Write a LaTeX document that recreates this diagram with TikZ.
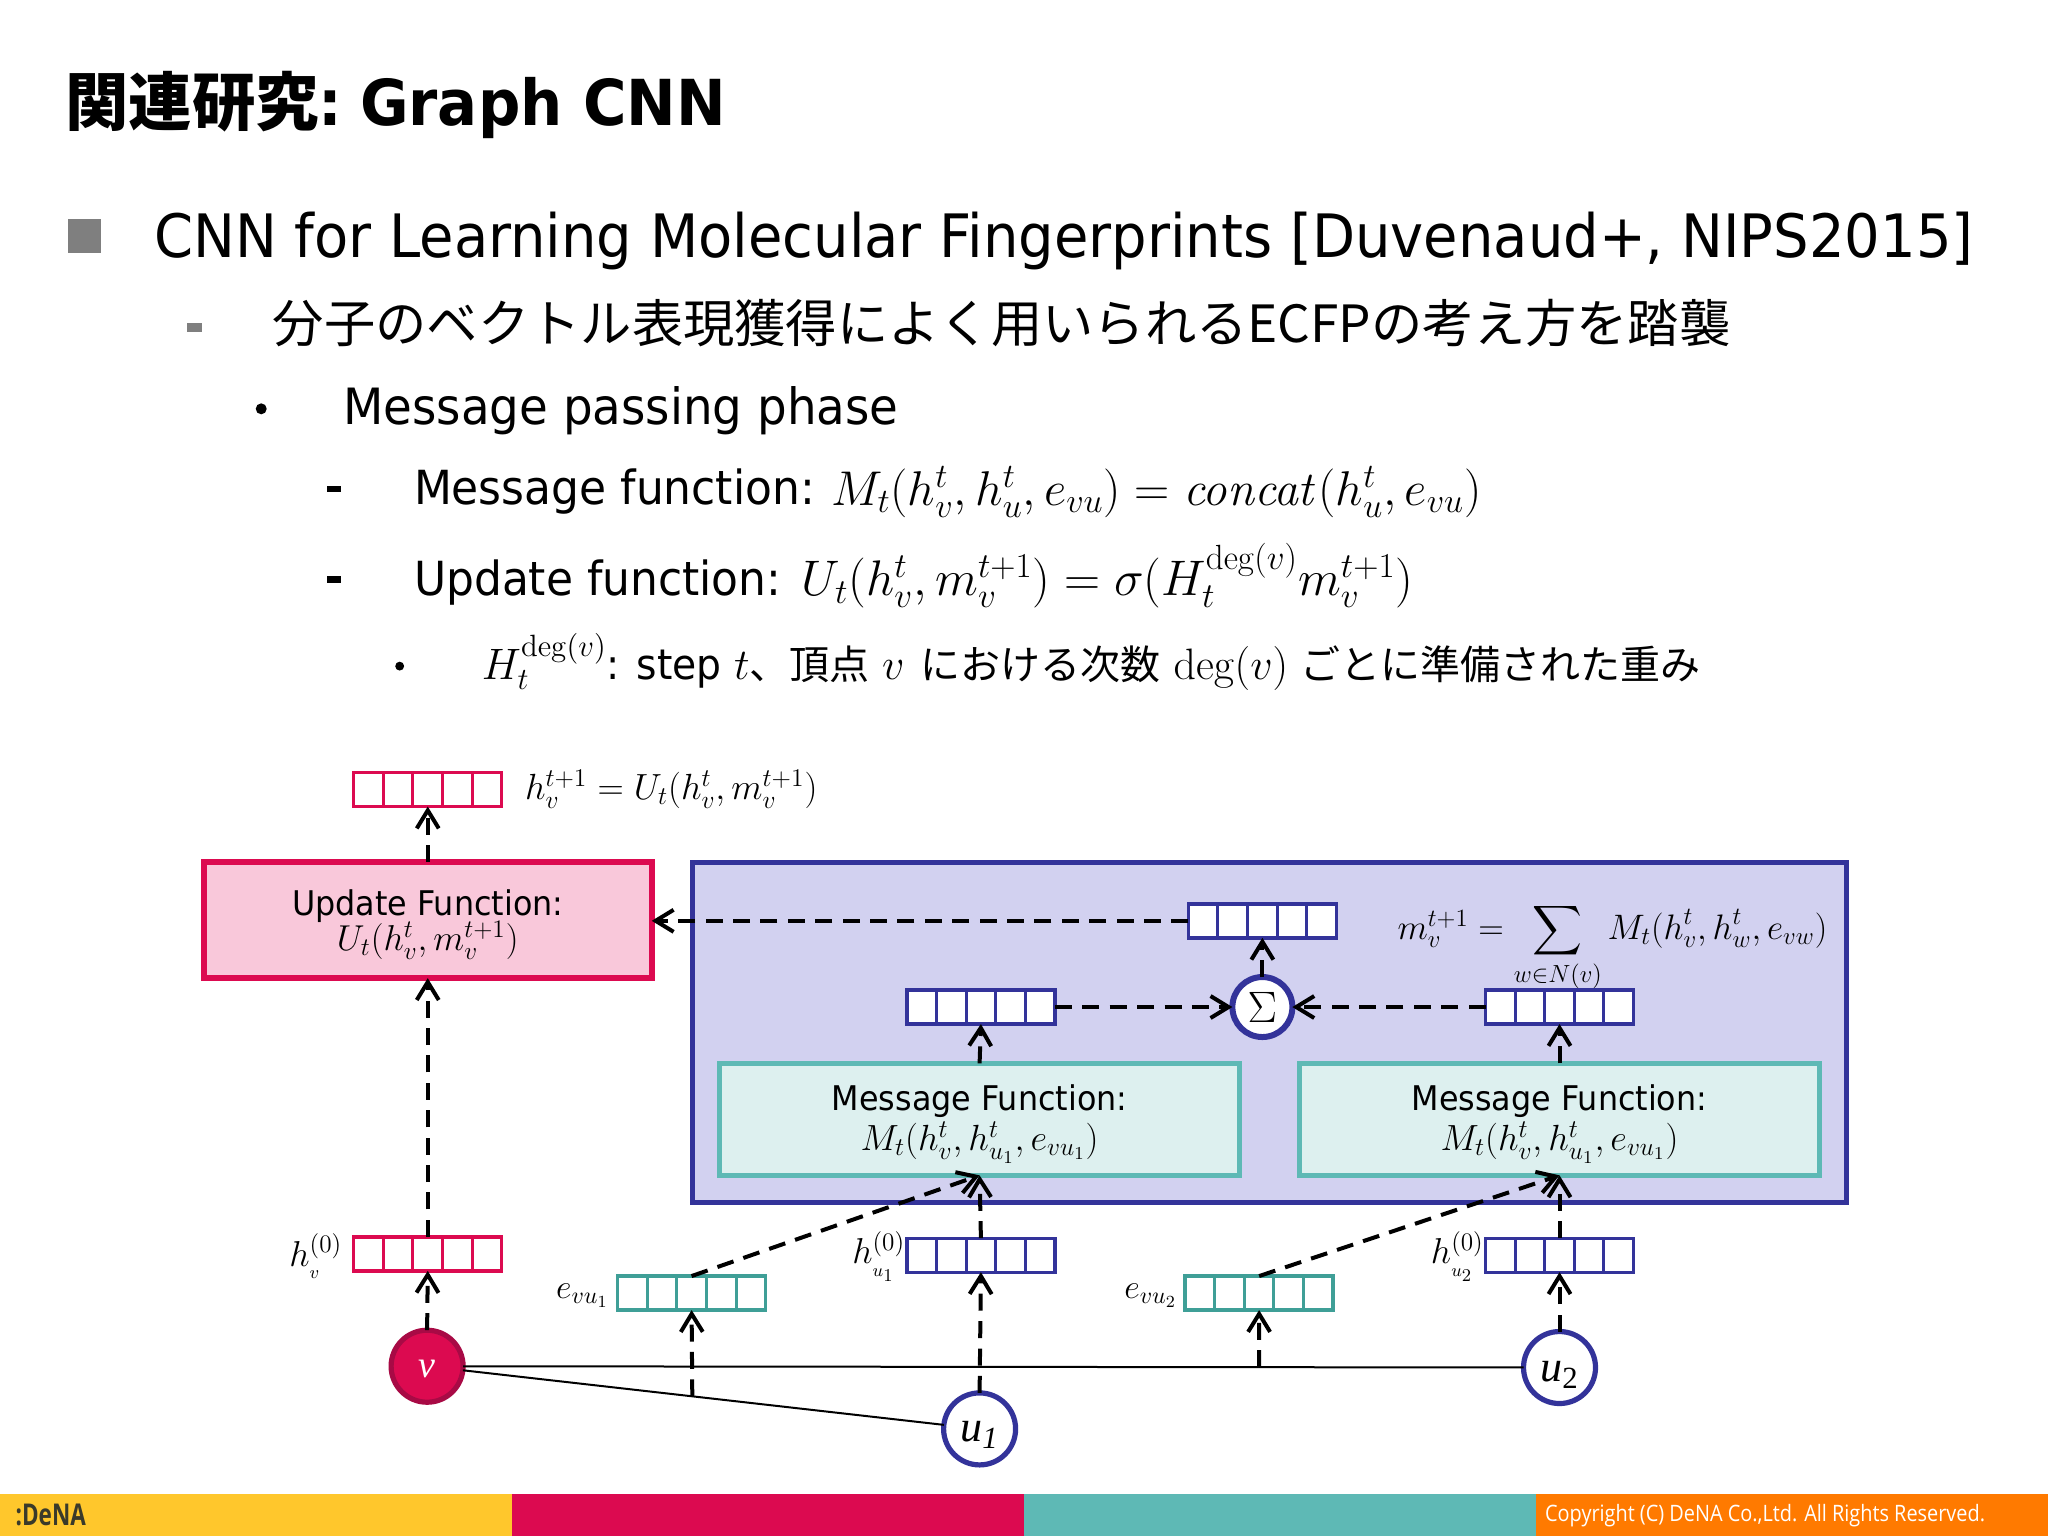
\RequirePackage{fix-cm}
\documentclass[tikz,border=0pt]{standalone}
\usepackage{amsmath}
\usepackage[no-math]{fontspec}
\setmainfont[FakeStretch=0.935]{DejaVu Sans}
\newfontfamily\jp{Noto Sans CJK JP}
\newfontfamily\opensans[FakeStretch=0.88]{Open Sans}
\newfontfamily\logofont[FakeStretch=0.75]{Open Sans}
\newfontfamily\libserif{Liberation Serif}
\usetikzlibrary{arrows.meta,calc}
\definecolor{dred}{HTML}{DC0A50}
\definecolor{dredd}{HTML}{A80A45}
\definecolor{dblue}{HTML}{33339A}
\definecolor{dteal}{HTML}{5EB9B5}
\definecolor{dtealv}{HTML}{3F9F97}
\definecolor{dyellow}{HTML}{FFC72C}
\definecolor{dorange}{HTML}{FF7A00}
\definecolor{lred}{HTML}{F9C8DA}
\definecolor{lblue}{HTML}{D2D1F0}
\definecolor{lteal}{HTML}{DDF0EF}
\definecolor{bgray}{HTML}{7F7F7F}
\definecolor{logoc}{HTML}{3A3A2A}
\newcommand{\fsz}[1]{\fontsize{#1}{#1}\selectfont}
\newcommand{\cellvec}[4]{% name, x, y, colour
  \node[vecbox,draw=#4] (#1) at (#2,#3) {};
  \foreach \k in {1,2,3,4}
    \draw[#4,line width=1.5pt] ($(#1.west)!\k/5!(#1.east)+(0,-13)$) -- ($(#1.west)!\k/5!(#1.east)+(0,13)$);
}
\newcommand{\lowsub}[1]{\raisebox{-2pt}{$\scriptscriptstyle #1$}}
\tikzset{
  x=0.65306pt,y=-0.65306pt,
  every node/.style={inner sep=0pt,outer sep=0pt},
  vecbox/.style={rectangle,fill=white,line width=1.7pt,minimum width=74pt,minimum height=17pt},
  txt/.style={anchor=base west,text=black},
  updatebox/.style={rectangle,draw=dred,fill=lred,line width=2.8pt,minimum width=224pt,minimum height=58pt,align=center},
  msgbox/.style={rectangle,draw=dteal,fill=lteal,line width=2.6pt,minimum width=260pt,minimum height=56pt,align=center},
  nodecirc/.style={circle,line width=2.6pt,minimum size=36pt},
  flow/.style={line width=2pt,dash pattern=on 8.5pt off 5.2pt,-{Straight Barb[length=9pt,width=11pt,line width=2pt]}},
  edgeline/.style={line width=1pt,black},
}
\begin{document}
\begin{tikzpicture}
\useasboundingbox (0,0) rectangle (1568,1176);
\fill[white] (0,0) rectangle (1568,1176);
% footer
\fill[dyellow] (0,1144) rectangle (392,1176);
\fill[dred] (392,1144) rectangle (784,1176);
\fill[dteal] (784,1144) rectangle (1176,1176);
\fill[dorange] (1176,1144) rectangle (1568,1176);
\node[txt,text=white] (copy) at (1183,1165) {\opensans\fsz{11.3}Copyright (C) DeNA Co.,Ltd. All Rights Reserved.};
\node[txt,text=logoc] (logo) at (12,1168) {\logofont\bfseries\fsz{15}:DeNA};
% text
\node[txt] (title) at (50,96) {\fsz{31.7}\bfseries{\jp 関連研究}:\hspace{-5pt} Graph CNN};
\fill[bgray] (52,168) rectangle (77,194);
\node[txt] (l1) at (118,197) {\fsz{29.93}CNN for Learning Molecular Fingerprints [Duvenaud+, NIPS2015]};
\fill[bgray] (143,247) rectangle (155,254);
\node[txt] (l2) at (209,262) {\fsz{25.65}\jp 分子のベクトル表現獲得によく用いられるECFPの考え方を踏襲};
\fill[black] (200,313) circle (4.2);
\node[txt] (l3) at (263,325) {\fsz{25}Message passing phase};
\fill[black] (250,372) rectangle (261,377);
\node[txt] (l4) at (317,386) {\fsz{23.5}Message function:};
\node[txt] (l4m) at (636.5,387) {\fsz{24.4}\(M_t(h_v^t,h_u^t,e_{vu})=\mathit{concat}(h_u^t,e_{vu})\)};
\fill[black] (250,441) rectangle (261,446);
\node[txt] (l5) at (317,456) {\fsz{23.5}Update function:};
\node[txt] (l5m) at (614,456) {\fsz{25}\(U_t(h_v^t,m_v^{t+1})=\sigma(H_t^{\deg(v)}m_v^{t+1})\)};
\fill[black] (306,510) circle (3.4);
\node[txt] (l6) at (369,520) {\fsz{21}{\fsz{22}\(H_t^{\deg(v)}\)}: step {\fsz{22}\(t\)}{\jp\fsz{20}、頂点} {\fsz{22}\(v\)}\kern1.5pt{} {\jp\fsz{20}における次数}\kern0.5pt{} {\fsz{22}\(\deg(v)\)} {\jp\fsz{20}ごとに準備された重み}};
% containers
\node[rectangle,draw=dblue,fill=lblue,line width=2.8pt,minimum width=577pt,minimum height=170pt] (mp) at (972,790.5) {};
\node[updatebox] (upd) at (327.5,704.5) {\fsz{17}\rule{0pt}{17pt}Update Function:\\[-1.5pt]\fsz{18}\(U_t(h_v^t,m_v^{t+1})\)};
\node[msgbox] (m1) at (750,857) {\fsz{17}\rule{0pt}{17.5pt}Message Function:\\[1pt]\fsz{18.2}\(M_t(h_v^t,h_{u_1}^t,e_{vu_1})\)};
\node[msgbox] (m2) at (1194,857) {\fsz{17}\rule{0pt}{17.5pt}Message Function:\\[1pt]\fsz{18.2}\(M_t(h_v^t,h_{u_1}^t,e_{vu_1})\)};
% vectors
\cellvec{hnew}{327.5}{604.5}{dred}
\cellvec{msum}{966.5}{705}{dblue}
\cellvec{ml}{751}{771}{dblue}
\cellvec{mr}{1194}{771}{dblue}
\cellvec{hv}{327.5}{960}{dred}
\cellvec{e1}{529.5}{990}{dtealv}
\cellvec{hu1}{751}{961}{dblue}
\cellvec{e2}{964}{990}{dtealv}
\cellvec{hu2}{1194}{961}{dblue}
% graph nodes
\node[nodecirc,draw=dredd,fill=dred,text=white] (v) at (327,1046) {\raisebox{-5.6pt}[8pt][8pt]{\libserif\itshape\fsz{19}v}};
\node[nodecirc,draw=dblue,fill=white] (u1) at (750,1094) {\raisebox{-6.3pt}[8pt][8pt]{\libserif\itshape\fsz{22}u\textsubscript{1}}};
\node[nodecirc,draw=dblue,fill=white] (u2) at (1194,1047) {\raisebox{-7pt}[8pt][8pt]{\libserif\fsz{22}\textit{u}\textsubscript{2}}};
\node[circle,draw=dblue,fill=white,line width=3pt,minimum size=30pt] (sig) at (966.5,771) {\fsz{22}\(\Sigma\)};
% graph edges
\draw[edgeline] (v) -- (u2);
\draw[edgeline] (v) -- (u1);
\coordinate (e1base) at ($(v)!0.48!(u1)$);
\coordinate (e2base) at ($(v)!0.7347!(u2)$);
% flows
\draw[flow] (upd.north) -- (hnew.south);
\draw[flow] (hv.north) -- (upd.south);
\draw[flow] (v.north) -- (hv.south);
\draw[flow] (u1.north) -- (hu1.south);
\draw[flow] (u2.north) -- (hu2.south);
\draw[flow] (e1base) -- (e1.south);
\draw[flow] (e2base) -- (e2.south);
\draw[flow] (hu1.north) -- (m1.south);
\draw[flow] (hu2.north) -- (m2.south);
\draw[flow] (e1.north) -- (m1.south);
\draw[flow] (e2.north) -- (m2.south);
\draw[flow] (m1.north) -- (ml.south);
\draw[flow] (m2.north) -- (mr.south);
\draw[flow] (ml.east) -- (sig.west);
\draw[flow] (mr.west) -- (sig.east);
\draw[flow] (sig.north) -- (msum.south);
\draw[flow] (msum.west) -- (msum.west -| upd.east);
% formula labels
\node[txt] (fh) at (402,612) {\fsz{18.2}\(h_v^{t+1}=U_t(h_v^t,m_v^{t+1})\)};
\node[txt] (fm) at (1070,719) {\fsz{17.7}\(m_v^{t+1}=\displaystyle\sum_{w\in N(v)}M_t(h_v^t,h_w^t,e_{vw})\)};
\node[anchor=east] (lhv) at (262,962) {\fsz{18}\(h_{\lowsub{v}}^{(0)}\)};
\node[anchor=east] (lhu1) at (693,962) {\fsz{18}\(h_{\lowsub{u_1}}^{(0)}\)};
\node[anchor=east] (lhu2) at (1136,962) {\fsz{18}\(h_{\lowsub{u_2}}^{(0)}\)};
\node[anchor=east] (le1) at (466,992) {\fsz{17}\(e_{vu_1}\)};
\node[anchor=east] (le2) at (901,992) {\fsz{17}\(e_{vu_2}\)};
\end{tikzpicture}
\end{document}
